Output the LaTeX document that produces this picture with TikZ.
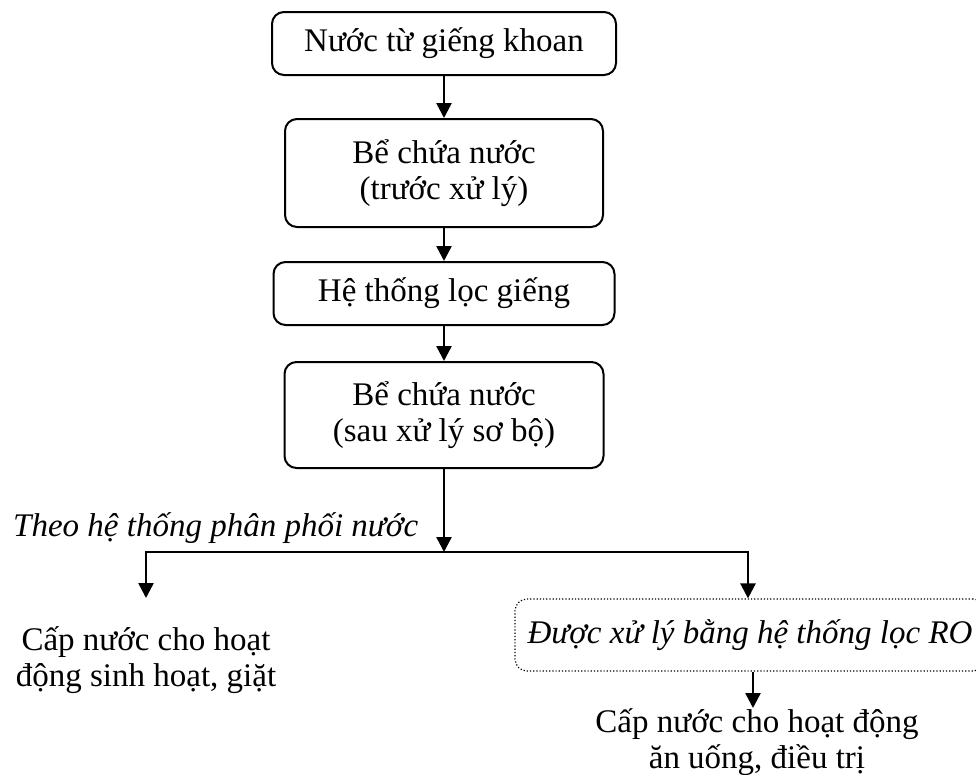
\documentclass[tikz,border=0pt]{standalone}
\usepackage{fontspec}
\setmainfont{Liberation Serif}
\usetikzlibrary{arrows.meta}
\begin{document}
\begin{tikzpicture}[x=1pt,y=-1pt,
  every node/.style={font=\fontsize{33}{36}\selectfont, inner sep=0pt},
  stage/.style={draw, line width=2pt, rounded corners=12pt, align=center},
  rostage/.style={draw, line width=1.2pt, dash pattern=on 1.2pt off 2pt,
    rounded corners=12pt, font=\fontsize{33}{36}\selectfont\itshape},
  note/.style={align=center},
  tip/.style={-{Triangle[length=15pt,width=15pt]}},
  flow/.style={line width=2.5pt, tip},
  branch/.style={line width=2.5pt,
    {Triangle[length=15pt,width=15pt]}-{Triangle[length=15pt,width=15pt]}}
]
\clip (0,0) rectangle (976,774);

% main treatment chain
\node[stage, minimum width=344pt, minimum height=63pt]  (b1) at (444,43.5) {Nước từ giếng khoan};
\node[stage, minimum width=318pt, minimum height=108pt] (b2) at (444,173) {Bể chứa nước\\(trước xử lý)};
\node[stage, minimum width=341pt, minimum height=63pt]  (b3) at (444,293.5) {Hệ thống lọc giếng};
\node[stage, minimum width=319pt, minimum height=106pt] (b4) at (444,415) {Bể chứa nước\\(sau xử lý sơ bộ)};

\draw[flow] (b1) -- (b2);
\draw[flow] (b2) -- (b3);
\draw[flow] (b3) -- (b4);

% distribution split
\coordinate (j) at (444,552);
\coordinate (l) at (146,552);
\coordinate (r) at (748,552);
\coordinate (la) at (146,598);

\node[anchor=base west, font=\fontsize{33}{36}\selectfont\itshape] (theo) at (13,536)
  {Theo hệ thống phân phối nước};

\draw[flow] (b4) -- (j);

\node[rostage, minimum width=470pt, minimum height=72pt] (ro) at (750,635)
  {Được xử lý bằng hệ thống lọc RO};

\draw[branch] (la) -- (l) -- (r) -- (r |- ro.north);

\node[note] (lt) at (146,660) {Cấp nước cho hoạt\\động sinh hoạt, giặt};
\node[note] (rt) at (757,742) {Cấp nước cho hoạt động\\ăn uống, điều trị};

\coordinate (rb) at (753,708);
\draw[flow] (ro.south -| rb) -- (rb);
\end{tikzpicture}
\end{document}
